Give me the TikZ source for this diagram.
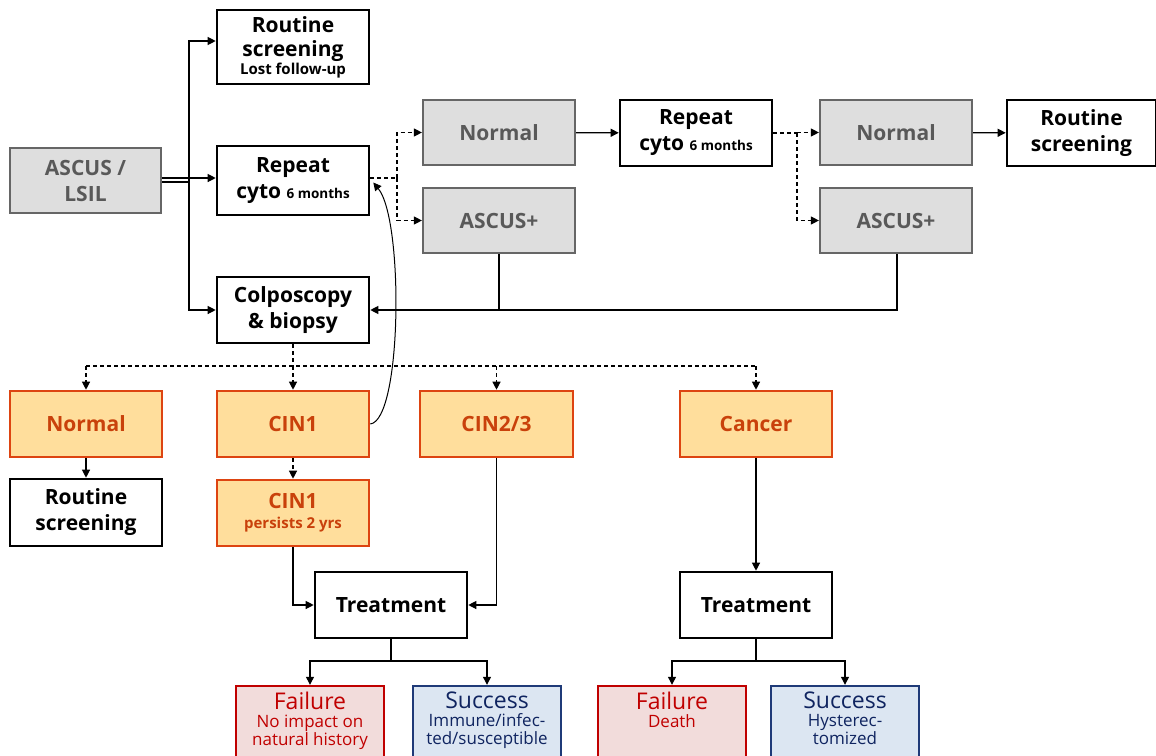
\documentclass[tikz,border=0pt]{standalone}
\usepackage{fontspec}
\setmainfont{Open Sans}
\usetikzlibrary{arrows.meta}
\definecolor{gfill}{HTML}{DEDEDE}
\definecolor{gdraw}{HTML}{666666}
\definecolor{gtext}{HTML}{595959}
\definecolor{ofill}{HTML}{FFDE9C}
\definecolor{odraw}{HTML}{DD4411}
\definecolor{otext}{HTML}{C9410B}
\definecolor{ffill}{HTML}{F2DCDB}
\definecolor{fdraw}{HTML}{C00000}
\definecolor{sfill}{HTML}{DCE6F2}
\definecolor{sdraw}{HTML}{1F3A78}
\definecolor{stext}{HTML}{0F2460}
\newcommand{\bigf}{\bfseries\fontsize{21}{26}\selectfont}
\newcommand{\smf}{\bfseries\fontsize{13.5}{16}\selectfont}
\newcommand{\smg}{\bfseries\fontsize{15}{16}\selectfont}
\newcommand{\outf}{\fontsize{23}{18}\selectfont}
\newcommand{\subf}{\fontsize{17}{17}\selectfont}
\tikzset{
  basebox/.style={rectangle, align=center, inner sep=0pt, minimum width=152pt, minimum height=66pt, font=\bigf},
  wbox/.style={basebox, draw=black, line width=2.6pt, fill=white, text=black},
  gbox/.style={basebox, draw=gdraw, line width=2.2pt, fill=gfill, text=gtext},
  obox/.style={basebox, draw=odraw, line width=2.6pt, fill=ofill, text=otext},
  fbox/.style={basebox, draw=fdraw, line width=2.4pt, fill=ffill, minimum width=148pt, minimum height=84pt},
  sbox/.style={basebox, draw=sdraw, line width=2.4pt, fill=sfill, minimum width=148pt, minimum height=84pt},
  outtext/.style={anchor=north, align=center, inner sep=0pt, font=\outf},
  conn/.style={line width=1.2pt, draw=black},
  arr/.style={conn, -{Triangle[length=8pt,width=8pt]}},
  darr/.style={arr, dash pattern=on 4pt off 3pt},
  dconn/.style={conn, dash pattern=on 4pt off 3pt},
}
\begin{document}
\begin{tikzpicture}[x=1pt,y=-1pt]
\useasboundingbox (0,0) rectangle (1156,755);
% top area
\node[gbox, minimum width=151pt, minimum height=65pt] (ascus) at (85.5,180.5) {ASCUS /\\LSIL};
\node[wbox, minimum height=74pt] (rs1) at (293,47) {Routine\\[-2pt]screening\\[-8pt]{\smg Lost follow-up}};
\node[wbox, minimum height=69pt] (rep1) at (293,180.5) {Repeat\\cyto {\smf 6 months}};
\node[wbox] (colpo) at (293,310) {Colposcopy\\\& biopsy};
\node[gbox, minimum height=65pt] (norm1) at (499,132.5) {Normal};
\node[gbox, minimum height=65pt] (asc1) at (499,220.5) {ASCUS+};
\node[wbox] (rep2) at (696,133) {Repeat\\cyto {\smf 6 months}};
\node[gbox, minimum height=65pt] (norm2) at (896,132.5) {Normal};
\node[gbox, minimum height=65pt] (asc2) at (896,220.5) {ASCUS+};
\node[wbox, minimum width=149pt] (rs2) at (1081.5,133) {Routine\\screening};
% orange row
\node[obox] (onorm) at (86,424) {Normal};
\node[obox] (cin1) at (293,424) {CIN1};
\node[obox, minimum width=153pt] (cin23) at (496.5,424) {CIN2/3};
\node[obox] (cancer) at (756,424) {Cancer};
\node[wbox, minimum height=67pt] (rs3) at (86,512.5) {Routine\\screening};
\node[obox] (cinp) at (293,513) {CIN1\\[-6pt]{\smg persists 2 yrs}};
\node[wbox] (tr1) at (391,605) {Treatment};
\node[wbox] (tr2) at (756,605) {Treatment};
% outcome boxes
\node[fbox] (fail1) at (310,728) {};
\node[sbox] (succ1) at (487,728) {};
\node[fbox] (fail2) at (672,728) {};
\node[sbox] (succ2) at (845,728) {};
\node[outtext, text=fdraw] (tf1) at ([yshift=-7pt]fail1.north) {Failure\\{\subf No impact on}\\{\subf natural history}};
\node[outtext, text=stext] (ts1) at ([yshift=-7pt]succ1.north) {Success\\{\subf Immune/infec-}\\{\subf ted/susceptible}};
\node[outtext, text=fdraw] (tf2) at ([yshift=-7pt]fail2.north) {Failure\\{\subf Death}};
\node[outtext, text=stext] (ts2) at ([yshift=-7pt]succ2.north) {Success\\{\subf Hysterec-}\\{\subf tomized}};
% connectors from ASCUS/LSIL
\coordinate (fk) at (189,182);
\draw[arr] ([yshift=2.5pt]ascus.east) -- ([yshift=2.5pt]rep1.west);
\draw[conn] ([yshift=-1.5pt]ascus.east) -- (fk);
\draw[arr] (fk) |- ([yshift=6pt]rs1.west);
\draw[arr] (fk) |- (colpo.west);
% repeat 1 branches
\coordinate (f1) at (397,178);
\draw[dconn] ([yshift=2.5pt]rep1.east) -- (f1);
\draw[darr] (f1) |- (norm1.west);
\draw[darr] (f1) |- (asc1.west);
\draw[arr] (norm1) -- (rep2);
\coordinate (f2) at (797,133);
\draw[dconn] (rep2.east) -- (f2);
\draw[darr] (f2) |- (norm2.west);
\draw[darr] (f2) |- (asc2.west);
\draw[arr] (norm2) -- (rs2);
% return to colposcopy
\coordinate (rt) at (897,310);
\draw[arr] (asc2.south -| rt) -- (rt) -- (colpo.east);
\draw[conn] (asc1.south) -- (asc1.south |- rt);
% curved return from CIN1
\draw[arr, line width=1pt] (cin1.east) .. controls (402,420) and (404,220) .. ([xshift=3pt,yshift=-2pt]rep1.east);
% colposcopy results
\coordinate (cb) at (293,366);
\draw[dconn] (colpo.south) -- (cb);
\draw[dconn] (onorm.north |- cb) -- (cancer.north |- cb);
\draw[darr] (onorm.north |- cb) -- (onorm.north);
\draw[darr] (cb) -- (cin1.north);
\draw[darr] (cin23.north |- cb) -- (cin23.north);
\draw[darr] (cancer.north |- cb) -- (cancer.north);
\draw[arr] (onorm) -- (rs3);
\draw[darr] (cin1) -- (cinp);
\draw[arr] (cinp.south) |- (tr1.west);
\draw[arr] (cin23.south) |- (tr1.east);
\draw[arr] (cancer) -- (tr2);
% outcomes
\coordinate (o1) at (391,661);
\draw[conn] (tr1.south) -- (o1);
\draw[arr] (o1) -| (fail1.north);
\draw[arr] (o1) -| (succ1.north);
\coordinate (o2) at (756,661);
\draw[conn] (tr2.south) -- (o2);
\draw[arr] (o2) -| (fail2.north);
\draw[arr] (o2) -| (succ2.north);
\end{tikzpicture}
\end{document}
